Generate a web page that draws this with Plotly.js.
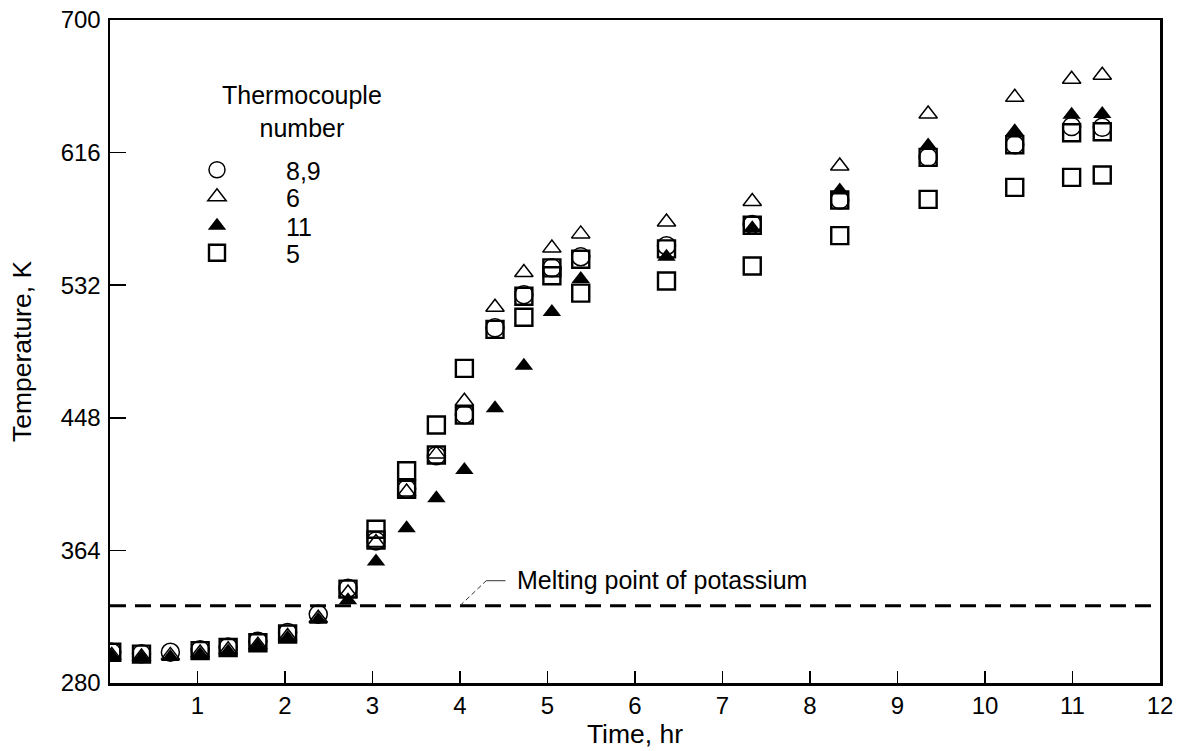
<!DOCTYPE html>
<html>
<head>
<meta charset="utf-8">
<script src="https://cdn.plot.ly/plotly-3.0.1.min.js"></script>
<style>
html,body{margin:0;padding:0;background:#fff;}
#chart{width:1177px;height:751px;}
</style>
</head>
<body>
<div id="chart"></div>
<script>
// Time, hr
var timeHr = [0.02, 0.36, 0.69, 1.03, 1.35, 1.69, 2.03, 2.38, 2.72, 3.04, 3.39, 3.73, 4.05, 4.40, 4.73, 5.05, 5.38, 6.36, 7.34, 8.34, 9.35, 10.34, 10.99, 11.34];
// Thermocouple 8,9 (open circles)
var tc89 = [299.5, 298.5, 299.5, 301, 302.8, 306.5, 312, 323.5, 340, 370, 403, 424, 450, 505, 526, 543, 550, 557, 570.5, 586, 613, 621, 632.5, 632];
// Thermocouple 6 (open triangles)
var tc6 = [297.5, 296.5, 297.5, 299, 301, 304, 309.5, 321, 337, 369, 401, 425, 458.5, 518, 540, 555.5, 564.5, 572, 585, 607.5, 640.5, 651, 662.5, 665];
// Thermocouple 11 (filled triangles)
var tc11 = [297, 296, 296.5, 298, 300, 303.5, 308.5, 320, 332.5, 357, 378, 397, 415, 454, 481, 515, 536, 550, 568, 592, 620.5, 629.5, 640, 640.5];
// Thermocouple 5 (open squares) - two readings per time where drawn
var tc5a = [299.5, 298.3, null, 300.5, 302.5, 305.5, 311, null, 339.5, 370.6, 402.7, 424.4, 449.8, 504, 525, 543, 548.4, 555, 570, 586, 613, 621, 628.6, 629.2];
var tc5b = [null, null, null, null, null, null, null, null, null, 377.4, 414.5, 443.4, 479.3, null, 511.7, 538, 527, 534.7, 544.2, 563.4, 586.4, 594, 600.3, 601.8];

var seriesNames = ["8,9", "6", "11", "5"];
var meltingPointK = 329;
var xTicks = [1, 2, 3, 4, 5, 6, 7, 8, 9, 10, 11, 12];
var yTicks = [280, 364, 448, 532, 616, 700];

var FONT = "Liberation Sans, Arial, Helvetica, sans-serif";
var LFONT = {family: FONT, size: 25, color: "#000"};

function legendBox(yPx) {
  return {
    x: (148 - 110) / 1050, y: (683 - yPx) / 663, xanchor: "left", yanchor: "middle",
    bgcolor: "rgba(0,0,0,0)", borderwidth: 0, itemwidth: 128, font: LFONT
  };
}

var traces = [
  {x: timeHr, y: tc5b, name: seriesNames[3], mode: "markers", type: "scatter", showlegend: false,
   marker: {symbol: "square-open", size: 17, color: "#000", line: {width: 2.4, color: "#000"}}},
  {x: timeHr, y: tc89, name: seriesNames[0], mode: "markers", type: "scatter", legend: "legend",
   marker: {symbol: "circle-open", size: 18, color: "#000", line: {width: 1.5, color: "#000"}}},
  {x: timeHr, y: tc6, name: seriesNames[1], mode: "markers", type: "scatter", legend: "legend2",
   marker: {symbol: "triangle-up-open", size: 16, color: "#000", line: {width: 1.5, color: "#000"}}},
  {x: timeHr, y: tc5a, name: seriesNames[3], mode: "markers", type: "scatter", legend: "legend4",
   marker: {symbol: "square-open", size: 17, color: "#000", line: {width: 2.4, color: "#000"}}},
  {x: timeHr, y: tc11, name: seriesNames[2], mode: "markers", type: "scatter", legend: "legend3",
   marker: {symbol: "triangle-up", size: 16, color: "#000", line: {width: 0, color: "#000"}}}
];

var layout = {
  width: 1177, height: 751,
  margin: {l: 110, r: 17, t: 20, b: 68},
  paper_bgcolor: "#fff", plot_bgcolor: "#fff",
  font: {family: FONT, size: 25, color: "#000"},
  showlegend: true,
  legend: legendBox(170),
  legend2: legendBox(197),
  legend3: legendBox(226),
  legend4: legendBox(253),
  xaxis: {
    range: [0, 12], tickvals: xTicks, ticktext: xTicks.map(String),
    ticks: "inside", ticklen: 12, tickwidth: 1.5, tickcolor: "#000",
    showline: true, linewidth: 2.5, linecolor: "#000", mirror: true,
    showgrid: false, zeroline: false,
    tickfont: {family: FONT, size: 24, color: "#000"},
    title: {text: "Time, hr", font: {family: FONT, size: 26.5, color: "#000"}, standoff: 4}
  },
  yaxis: {
    range: [280, 700], tickvals: yTicks, ticktext: yTicks.map(String),
    ticks: "inside", ticklen: 16, tickwidth: 1.5, tickcolor: "#000",
    showline: true, linewidth: 2.5, linecolor: "#000", mirror: true,
    showgrid: false, zeroline: false, ticklabelstandoff: 2,
    tickfont: {family: FONT, size: 24, color: "#000"},
    title: {text: "Temperature, K", font: {family: FONT, size: 26.5, color: "#000"}, standoff: 22}
  },
  shapes: [
    {type: "line", xref: "x", yref: "y", x0: 0, x1: 12, y0: meltingPointK, y1: meltingPointK,
     line: {color: "#000", width: 3, dash: "16px,9px"}, layer: "below"},
    {type: "path", xref: "x", yref: "y", path: "M 4.0 " + meltingPointK + " L 4.30 344.8",
     line: {color: "#333", width: 1, dash: "5px,3px"}},
    {type: "path", xref: "x", yref: "y", path: "M 4.30 344.8 L 4.52 344.8",
     line: {color: "#333", width: 1}}
  ],
  annotations: [
    {xref: "x", yref: "y", x: 4.63, y: 345.2, xanchor: "left", yanchor: "middle", showarrow: false,
     text: "Melting point of potassium", font: {family: FONT, size: 25, color: "#000"}},
    {xref: "paper", yref: "paper", x: (302 - 110.5) / 1050, y: (683 - 112) / 663, xanchor: "center", yanchor: "middle",
     showarrow: false, text: "Thermocouple<br>number", font: {family: FONT, size: 25, color: "#000"}}
  ]
};

Plotly.newPlot("chart", traces, layout, {displayModeBar: false, staticPlot: true});
</script>
</body>
</html>
